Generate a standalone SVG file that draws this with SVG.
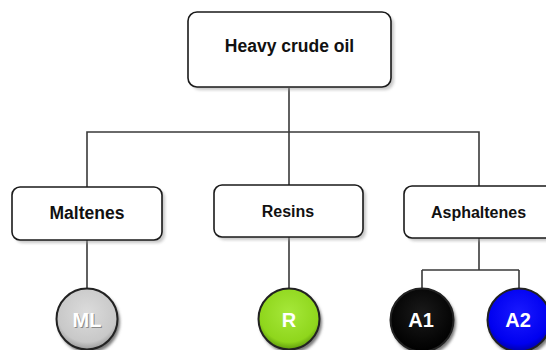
<svg xmlns="http://www.w3.org/2000/svg" width="546" height="350" viewBox="0 0 546 350">
<style>
.box{fill:#fff;stroke:#1a1a1a;stroke-width:1.6}
.shadow{fill:#9a9a9a;opacity:0.55}
.lbl{font-family:"Liberation Sans",Arial,sans-serif;font-weight:bold;fill:#111;text-anchor:middle}
.clbl{font-family:"Liberation Sans",Arial,sans-serif;font-weight:bold;fill:#fff;text-anchor:middle;font-size:20px}
.conn{stroke:#3a3a3a;stroke-width:1.6;fill:none}
.ring{stroke:#222;stroke-width:2}
</style>
<defs>
<filter id="blur" x="-10%" y="-10%" width="130%" height="130%"><feGaussianBlur stdDeviation="1.5"/></filter>
<radialGradient id="gGray" cx="50%" cy="40%" r="60%"><stop offset="0" stop-color="#dcdcdc"/><stop offset="0.8" stop-color="#c8c8c8"/><stop offset="1" stop-color="#9a9a9a"/></radialGradient>
<radialGradient id="gGreen" cx="50%" cy="40%" r="60%"><stop offset="0" stop-color="#a6e83a"/><stop offset="0.8" stop-color="#8fd61c"/><stop offset="1" stop-color="#5e9a0c"/></radialGradient>
<radialGradient id="gBlack" cx="50%" cy="40%" r="60%"><stop offset="0" stop-color="#1a1a1a"/><stop offset="0.8" stop-color="#050505"/><stop offset="1" stop-color="#000"/></radialGradient>
<radialGradient id="gBlue" cx="50%" cy="40%" r="60%"><stop offset="0" stop-color="#1a1aff"/><stop offset="0.8" stop-color="#0000f0"/><stop offset="1" stop-color="#0000a8"/></radialGradient>
</defs>
<g id="connectors">
<path class="conn" d="M289 88 V132 M87 187 V132 H479 V186 M289 132 V185"/>
<path class="conn" d="M87 240 V288 M289 237 V288 M479 238 V270 M422 270 H519 M422 270 V289 M519 270 V289"/>
</g>
<g id="heavy">
<rect class="shadow" x="191" y="15" width="203" height="75" rx="9" filter="url(#blur)"/>
<rect class="box" x="188" y="12" width="203" height="75" rx="9"/>
<text class="lbl" x="289.5" y="52" font-size="17.5">Heavy crude oil</text>
</g>
<g id="maltenes">
<rect class="shadow" x="15" y="190" width="150" height="53" rx="8" filter="url(#blur)"/>
<rect class="box" x="12" y="187" width="150" height="53" rx="8"/>
<text class="lbl" x="87" y="219" font-size="17.5">Maltenes</text>
</g>
<g id="resins">
<rect class="shadow" x="217" y="188" width="149" height="52" rx="8" filter="url(#blur)"/>
<rect class="box" x="214" y="185" width="149" height="52" rx="8"/>
<text class="lbl" x="288" y="217" font-size="16">Resins</text>
</g>
<g id="asphaltenes">
<rect class="shadow" x="407" y="189" width="150" height="52" rx="8" filter="url(#blur)"/>
<rect class="box" x="404" y="186" width="150" height="52" rx="8"/>
<text class="lbl" x="478.5" y="218" font-size="16">Asphaltenes</text>
</g>
<g id="ML">
<circle cx="89" cy="322" r="31" fill="#777" filter="url(#blur)"/>
<circle class="ring" cx="87" cy="319" r="30.5" fill="url(#gGray)"/>
<text class="clbl" x="88" y="328" style="fill:#8a8a8a">ML</text>
<text class="clbl" x="87" y="327">ML</text>
</g>
<g id="R">
<circle cx="291" cy="322" r="31" fill="#777" filter="url(#blur)"/>
<circle class="ring" cx="289" cy="319" r="30.5" fill="url(#gGreen)"/>
<text class="clbl" x="289" y="327">R</text>
</g>
<g id="A1">
<circle cx="424" cy="323" r="32" fill="#777" filter="url(#blur)"/>
<circle class="ring" cx="422" cy="320" r="31.5" fill="url(#gBlack)"/>
<text class="clbl" x="421" y="327">A1</text>
</g>
<g id="A2">
<circle cx="521" cy="323" r="32" fill="#777" filter="url(#blur)"/>
<circle class="ring" cx="519" cy="320" r="31.5" fill="url(#gBlue)"/>
<text class="clbl" x="518" y="327">A2</text>
</g>
</svg>
